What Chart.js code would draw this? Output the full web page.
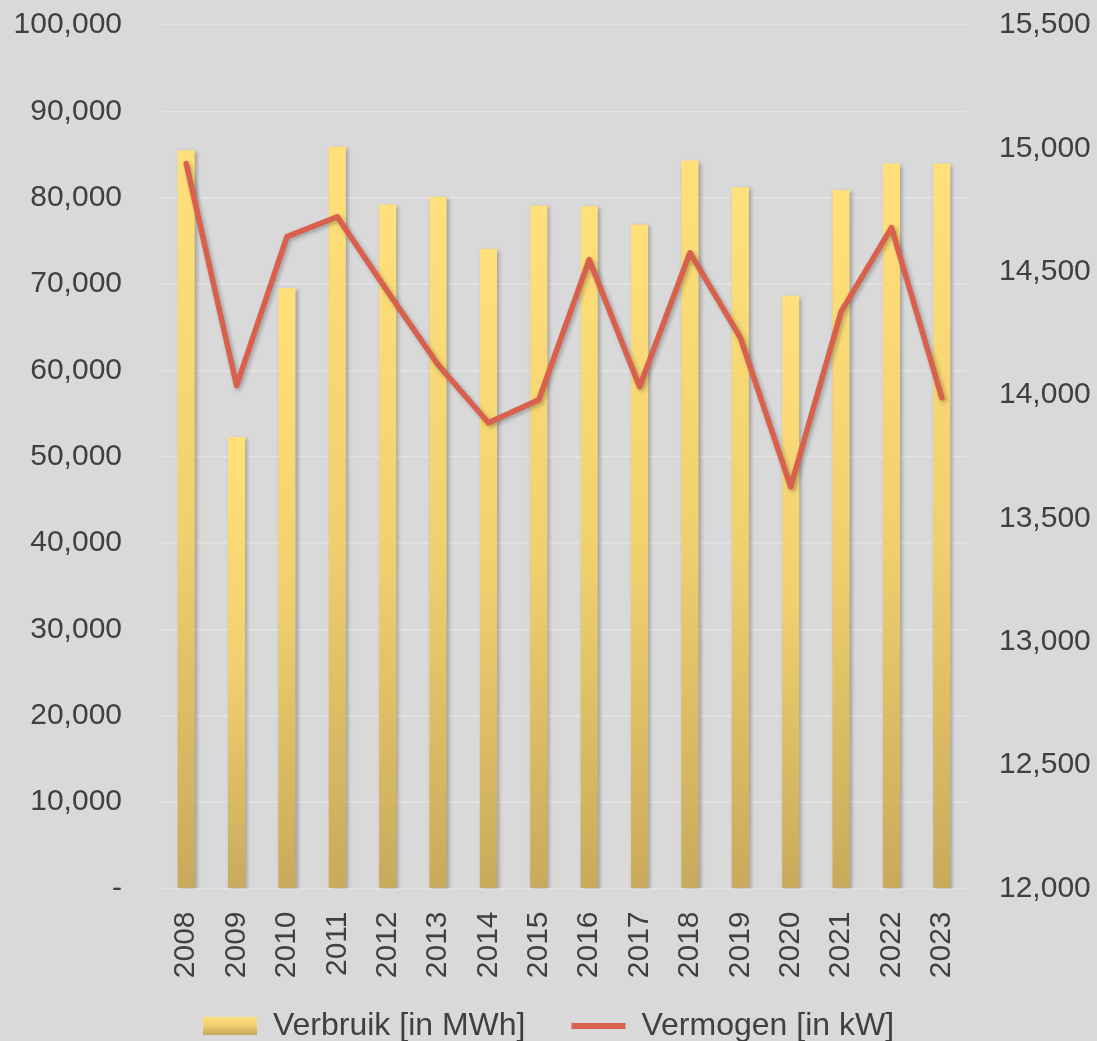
<!DOCTYPE html>
<html>
<head>
<meta charset="utf-8">
<title>Verbruik en vermogen</title>
<script src="https://cdn.jsdelivr.net/npm/chart.js@4.4.1/dist/chart.umd.min.js"></script>
<style>
    html, body { margin: 0; padding: 0; background: #d9d9d9; }
    canvas { display: block; }
</style>
</head>
<body>
<canvas id="grafiek" width="1097" height="1041"></canvas>
<script>
// ======================
// DATA
// ======================

const jaren = ["2008","2009","2010","2011","2012","2013","2014","2015",
               "2016","2017","2018","2019","2020","2021","2022","2023"];

// Verbruik [in MWh] - linker as
const verbruik = [85500, 52300, 69500, 85900, 79200, 80100, 74100, 79100,
                  79000, 76900, 84300, 81200, 68650, 80900, 83950, 83950];

// Vermogen [in kW] - rechter as
const vermogen = [14938, 14038, 14642, 14723, 14419, 14123, 13888, 13981,
                  14549, 14034, 14577, 14233, 13628, 14338, 14679, 13989];

const tekstKleur = "#404040";
const lijnKleur = "#d9604c";
const lettertype = "'Liberation Sans', Arial, sans-serif";

// ======================
// HULPFUNCTIES
// ======================

function staafVerloop(ctx, top, bodem) {
    const g = ctx.createLinearGradient(0, top, 0, bodem);
    g.addColorStop(0, "#ffe07a");
    g.addColorStop(0.5, "#f1d16f");
    g.addColorStop(1, "#c9aa5b");
    return g;
}

function formatLinks(v) {
    return v === 0 ? "-" : v.toLocaleString("en-US");
}

// schaduw onder staven en lijn
const schaduwPlugin = {
    id: "schaduw",
    beforeDatasetDraw(chart) {
        const c = chart.ctx;
        c.save();
        c.shadowColor = "rgba(0,0,0,0.28)";
        c.shadowBlur = 4;
        c.shadowOffsetX = 2;
        c.shadowOffsetY = 2;
    },
    afterDatasetDraw(chart) {
        chart.ctx.restore();
    }
};

// legenda vaste hoogte geven
const legendaPlugin = {
    id: "legendaHoogte",
    beforeLayout(chart) {
        const l = chart.legend;
        if (l && !l._aangepast) {
            const fit = l.fit.bind(l);
            l.fit = function () {
                fit();
                this.height = 77;
            };
            l._aangepast = true;
        }
    }
};

// ======================
// GRAFIEK
// ======================

const canvas = document.getElementById("grafiek");

new Chart(canvas, {
    data: {
        labels: jaren,
        datasets: [
            {
                type: "line",
                label: "Vermogen [in kW]",
                data: vermogen,
                yAxisID: "y2",
                borderColor: lijnKleur,
                backgroundColor: lijnKleur,
                borderWidth: 5.5,
                pointRadius: 0,
                tension: 0,
                borderCapStyle: "round",
                borderJoinStyle: "round",
                order: 1
            },
            {
                type: "bar",
                label: "Verbruik [in MWh]",
                data: verbruik,
                yAxisID: "y",
                backgroundColor: function (context) {
                    const chart = context.chart;
                    if (!chart.chartArea || context.raw === undefined) return "#f1d16f";
                    const schaal = chart.scales.y;
                    const top = schaal.getPixelForValue(context.raw);
                    const bodem = schaal.getPixelForValue(0);
                    return staafVerloop(chart.ctx, top, bodem);
                },
                borderWidth: 0,
                barPercentage: 0.68,
                categoryPercentage: 0.5,
                order: 2
            }
        ]
    },
    options: {
        responsive: false,
        animation: false,
        layout: {
            padding: { top: 25, right: 0, bottom: 0, left: 0 }
        },
        plugins: {
            tooltip: { enabled: false },
            legend: {
                position: "bottom",
                reverse: true,
                labels: {
                    color: tekstKleur,
                    font: { family: lettertype, size: 32 },
                    usePointStyle: true,
                    pointStyleWidth: 54,
                    boxHeight: 18,
                    padding: 46,
                    generateLabels: function (chart) {
                        const items = Chart.defaults.plugins.legend.labels.generateLabels(chart);
                        items.forEach(item => {
                            const ds = chart.data.datasets[item.datasetIndex];
                            if (ds.type === "bar") {
                                item.pointStyle = "rect";
                                item.lineWidth = 0;
                                item.strokeStyle = "rgba(0,0,0,0)";
                                item.fillStyle = staafVerloop(chart.ctx, 1016, 1034);
                            } else {
                                item.pointStyle = "line";
                                item.lineWidth = 6;
                                item.strokeStyle = lijnKleur;
                            }
                        });
                        return items;
                    }
                }
            }
        },
        scales: {
            x: {
                grid: { display: false, drawTicks: false },
                border: { display: false },
                ticks: {
                    color: tekstKleur,
                    font: { family: lettertype, size: 30 },
                    minRotation: 90,
                    maxRotation: 90,
                    padding: 23
                },
                afterFit: function (schaal) {
                    schaal.height = 75.5;
                    schaal.paddingLeft = 0;
                    schaal.paddingRight = 0;
                    // labels mogen buiten de as-hoogte vallen
                    schaal._computeLabelArea = function () { return undefined; };
                }
            },
            y: {
                position: "left",
                min: 0,
                max: 100000,
                grid: { color: "#e4e4e4", lineWidth: 1.5, drawTicks: false },
                border: { display: false },
                ticks: {
                    stepSize: 10000,
                    color: tekstKleur,
                    font: { family: lettertype, size: 30 },
                    padding: 39,
                    callback: formatLinks
                },
                afterFit: function (schaal) {
                    schaal.width = 161;
                    schaal.paddingTop = 0;
                    schaal.paddingBottom = 0;
                }
            },
            y2: {
                position: "right",
                min: 12000,
                max: 15500,
                grid: { display: false, drawTicks: false },
                border: { display: false },
                ticks: {
                    stepSize: 500,
                    color: tekstKleur,
                    font: { family: lettertype, size: 30 },
                    padding: 32,
                    callback: v => v.toLocaleString("en-US")
                },
                afterFit: function (schaal) {
                    schaal.width = 130;
                    schaal.paddingTop = 0;
                    schaal.paddingBottom = 0;
                }
            }
        }
    },
    plugins: [schaduwPlugin, legendaPlugin]
});
</script>
</body>
</html>
